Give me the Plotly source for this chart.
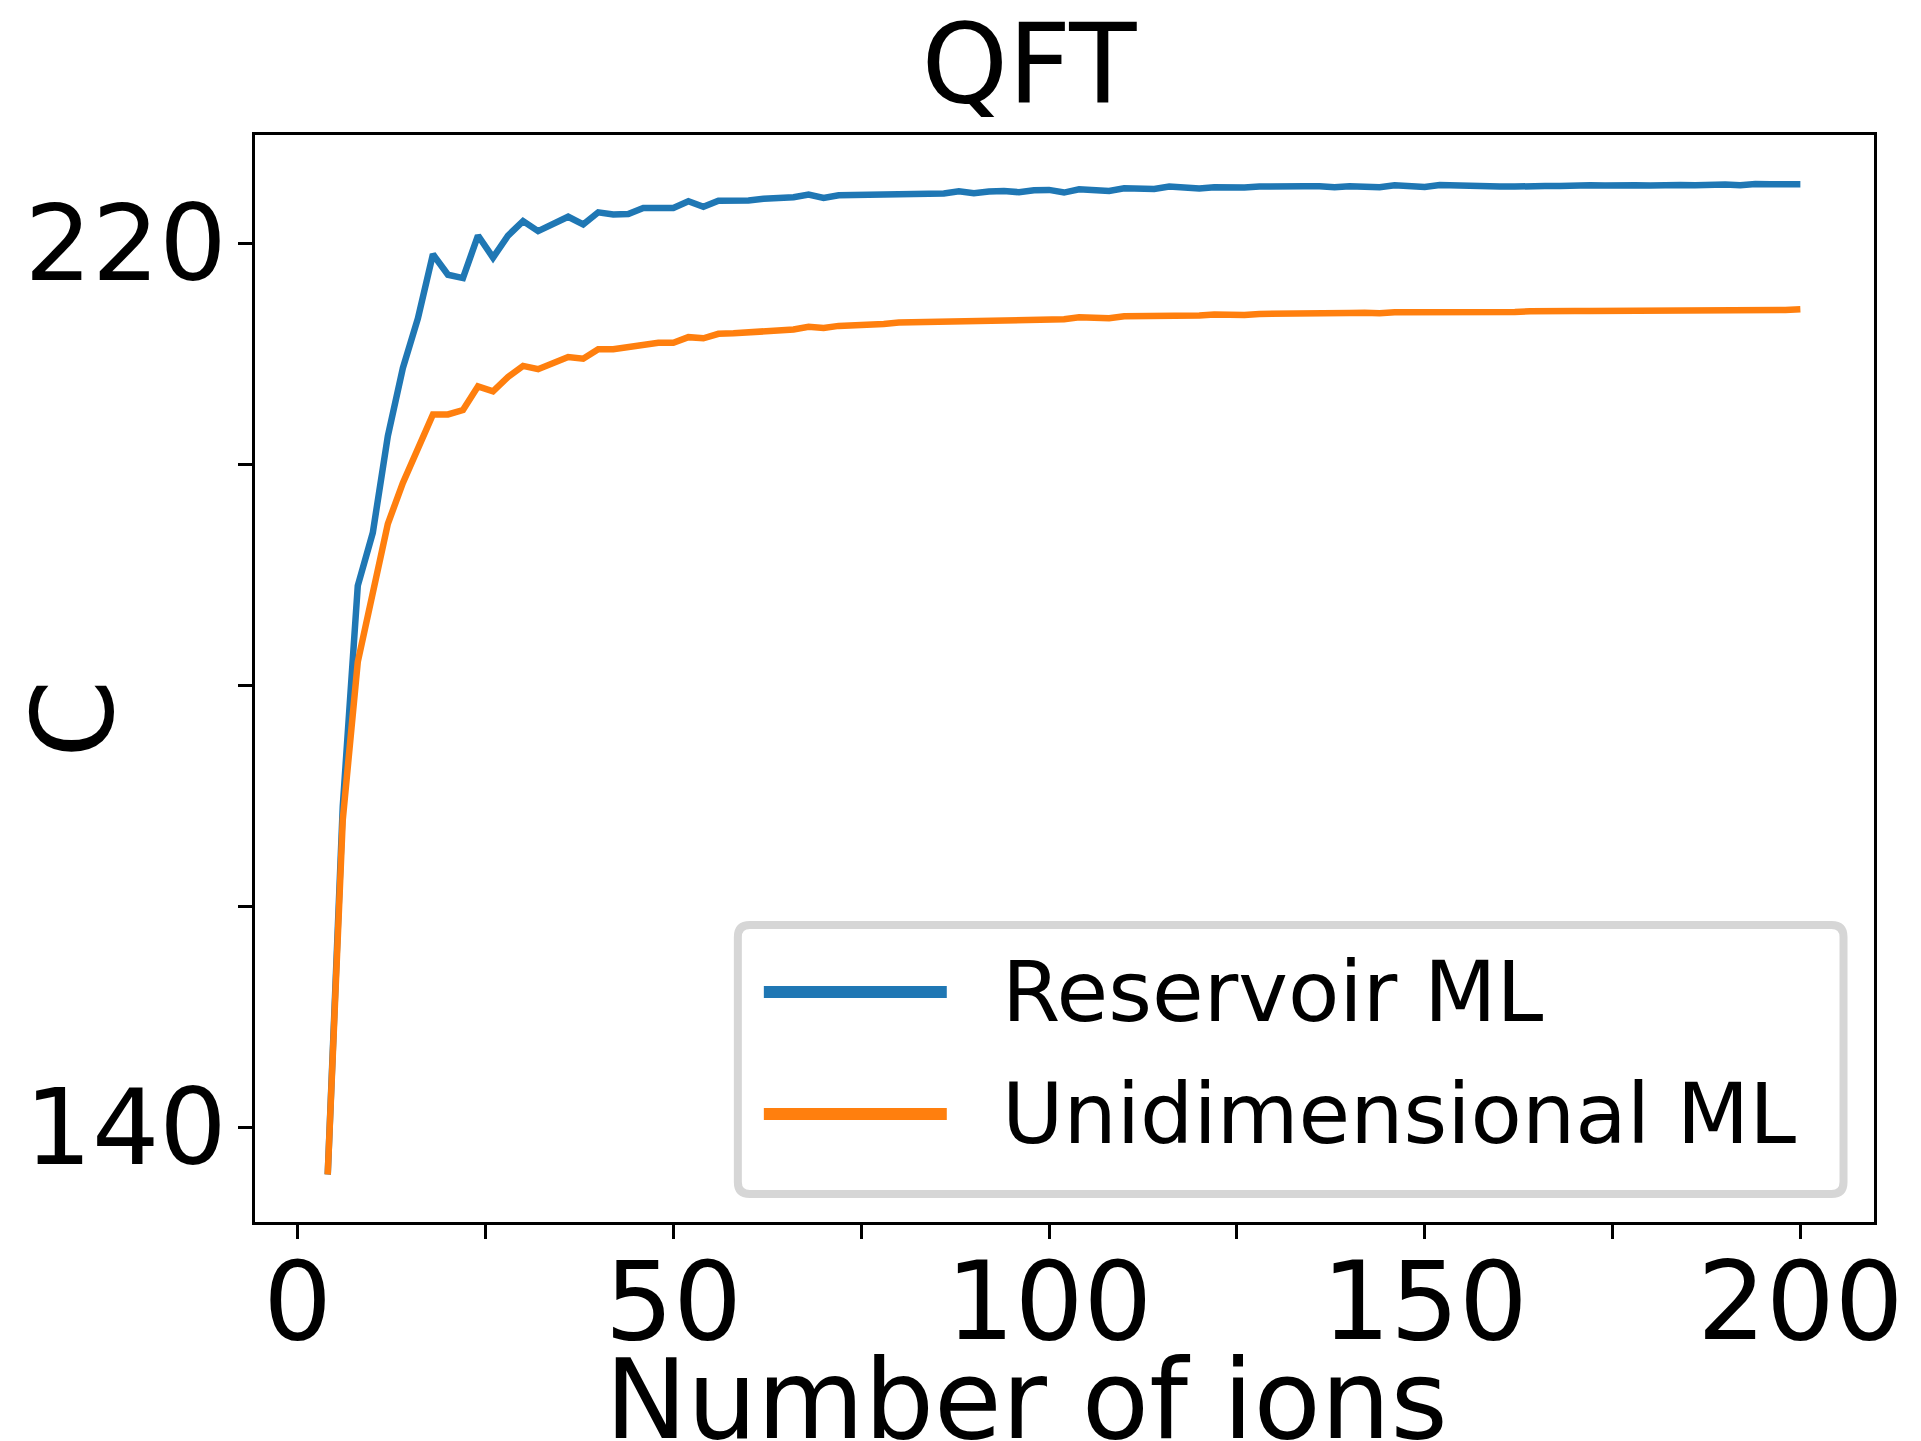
import plotly.graph_objects as go

num_ions = list(range(4, 201, 2))

reservoir_ml = [
    135.7, 169.0, 189.0, 193.8, 202.55, 208.7, 213.2, 219.0, 217.15, 216.85,
    220.7, 218.7, 220.7, 222.0, 221.1, 221.8, 222.4, 221.7, 222.8, 222.6,
    222.65, 223.2, 223.2, 223.2, 223.8, 223.3, 223.85, 223.8, 223.87, 224.02,
    224.08, 224.17, 224.41, 224.11, 224.35, 224.38, 224.44, 224.44, 224.50, 224.53,
    224.56, 224.50, 224.71, 224.53, 224.68, 224.74, 224.62, 224.80, 224.83, 224.59,
    224.89, 224.83, 224.74, 224.98, 224.92, 224.92, 225.13, 224.98, 224.95, 225.07,
    225.04, 225.04, 225.13, 225.10, 225.07, 225.16, 225.16, 225.07, 225.16, 225.16,
    225.07, 225.25, 225.22, 225.10, 225.28, 225.22, 225.15, 225.16, 225.13, 225.13,
    225.22, 225.19, 225.19, 225.25, 225.25, 225.22, 225.28, 225.25, 225.22, 225.28,
    225.28, 225.25, 225.31, 225.31, 225.25, 225.37, 225.34, 225.28, 225.34,
]

unidimensional_ml = [
    135.7, 167.8, 182.1, 188.6, 194.6, 198.3, 201.35, 204.5, 204.5, 204.9,
    207.05, 206.6, 207.9, 208.9, 208.6, 209.2, 209.7, 209.55, 210.4, 210.4,
    210.6, 210.8, 211.0, 211.0, 211.5, 211.4, 211.8, 211.85, 211.94, 212.04,
    212.16, 212.19, 212.43, 212.34, 212.52, 212.55, 212.67, 212.70, 212.82, 212.85,
    212.88, 212.91, 213.03, 212.94, 213.06, 213.09, 213.06, 213.15, 213.21, 213.12,
    213.30, 213.27, 213.21, 213.39, 213.39, 213.39, 213.51, 213.45, 213.45, 213.54,
    213.51, 213.51, 213.60, 213.60, 213.57, 213.63, 213.63, 213.60, 213.69, 213.72,
    213.66, 213.75, 213.75, 213.69, 213.81, 213.75, 213.74, 213.75, 213.75, 213.78,
    213.84, 213.81, 213.81, 213.87, 213.87, 213.87, 213.90, 213.90, 213.87, 213.96,
    213.93, 213.90, 213.96, 213.96, 213.93, 213.99, 213.99, 213.96, 214.02,
]

series_names = ["Reservoir ML", "Unidimensional ML"]
series_colors = ["#1f77b4", "#ff7f0e"]

x_tickvals = [0, 25, 50, 75, 100, 125, 150, 175, 200]
x_ticktext = ["0", "", "50", "", "100", "", "150", "", "200"]
y_tickvals = [140, 160, 180, 200, 220]
y_ticktext = ["140", "", "", "", "220"]

FONT = "DejaVu Sans"

fig = go.Figure()
for name, vals, col in zip(series_names, [reservoir_ml, unidimensional_ml], series_colors):
    fig.add_trace(go.Scatter(x=num_ions, y=vals, mode="lines", name=name,
                             line=dict(color=col, width=6.5), showlegend=False))

# plot-area pixel geometry -> paper coords helpers
L, R, T, B = 255.0, 1874.5, 135.0, 1222.0
def px(xp):
    return (xp - L) / (R - L)
def py(yp):
    return (B - yp) / (B - T)

# rounded legend frame
x0, x1, y0, y1 = px(738), px(1844), py(1194), py(925)
rx, ry = 12 / (R - L), 12 / (B - T)
path = (f"M{x0+rx},{y0} L{x1-rx},{y0} Q{x1},{y0} {x1},{y0+ry} L{x1},{y1-ry} "
        f"Q{x1},{y1} {x1-rx},{y1} L{x0+rx},{y1} Q{x0},{y1} {x0},{y1-ry} "
        f"L{x0},{y0+ry} Q{x0},{y0} {x0+rx},{y0} Z")
fig.add_shape(type="path", path=path, xref="paper", yref="paper",
              line=dict(color="#d6d6d6", width=8), fillcolor="white", layer="above")

# legend entries
for name, col, yc in zip(series_names, series_colors, [992, 1114]):
    fig.add_shape(type="line", xref="paper", yref="paper",
                  x0=px(764), x1=px(947), y0=py(yc), y1=py(yc),
                  line=dict(color=col, width=12), layer="above")
    fig.add_annotation(text=name, x=px(1000), y=py(yc), xref="paper", yref="paper",
                       showarrow=False, xanchor="left", yanchor="middle",
                       font=dict(family=FONT, size=84, color="black"))

# axis titles
fig.add_annotation(text="C", x=px(73), y=py(719), xref="paper", yref="paper",
                   textangle=-90, showarrow=False, xanchor="center", yanchor="middle",
                   font=dict(family=FONT, size=112, color="black"))
fig.add_annotation(text="Number of ions", x=px(1027), y=py(1400), xref="paper", yref="paper",
                   showarrow=False, xanchor="center", yanchor="middle",
                   font=dict(family=FONT, size=110, color="black"))

fig.update_layout(
    width=1921, height=1441,
    margin=dict(l=255, r=47, t=135, b=219),
    paper_bgcolor="white", plot_bgcolor="white",
    font=dict(family=FONT, color="black"),
    title=dict(text="QFT", x=1029 / 1921, xref="container", xanchor="center",
               y=1 - 64 / 1441, yref="container", yanchor="middle",
               font=dict(family=FONT, size=110, color="black")),
    showlegend=False,
)
fig.update_xaxes(range=[-5.68, 209.8], tickvals=x_tickvals, ticktext=x_ticktext,
                 ticks="outside", ticklen=14, tickwidth=3, tickcolor="black",
                 ticklabelstandoff=-30, automargin=False,
                 showline=True, linecolor="black", linewidth=3, mirror=True,
                 showgrid=False, zeroline=False,
                 tickfont=dict(family=FONT, size=108, color="black"))
fig.update_yaxes(range=[131.4, 229.8], tickvals=y_tickvals, ticktext=y_ticktext,
                 ticks="outside", ticklen=14, tickwidth=3, tickcolor="black",
                 ticklabelstandoff=-10, automargin=False,
                 showline=True, linecolor="black", linewidth=3, mirror=True,
                 showgrid=False, zeroline=False,
                 tickfont=dict(family=FONT, size=106, color="black"))

fig.write_html("out.html")
